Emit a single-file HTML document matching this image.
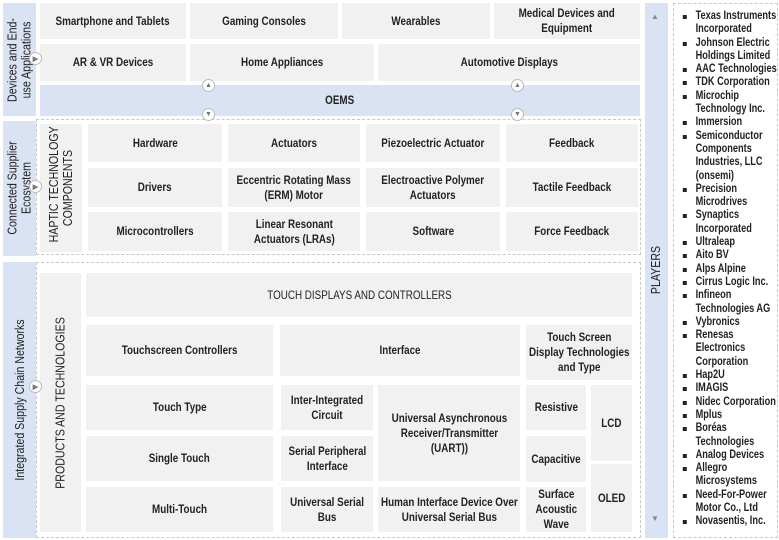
<!DOCTYPE html>
<html><head><meta charset="utf-8">
<style>
*{margin:0;padding:0;box-sizing:border-box}
body{width:779px;height:540px;background:#fff;position:relative;overflow:hidden;font-family:"Liberation Sans",sans-serif;color:#222;font-weight:bold}
.a{position:absolute}
.b{position:absolute;background:#f1f1f1;display:flex;align-items:center;justify-content:center;text-align:center;font-size:12px;line-height:15px}
.b span{display:inline-block;white-space:nowrap;transform:scaleX(.82)}
.lab{position:absolute;background:#dae3f3}
.v{position:absolute;transform:rotate(-90deg) scaleX(.85);transform-origin:center;white-space:nowrap;text-align:center;font-size:12.5px;line-height:14px;font-weight:normal;color:#222}
.dash{position:absolute;border:1.5px dashed #c8c8c8}
.c{position:absolute;width:13px;height:13px;border-radius:50%;background:#fff;border:1px solid #bbb;font-size:7px;color:#777;display:flex;align-items:center;justify-content:center}
ul{list-style:none}
li{position:relative;padding-left:22px;font-size:11.5px;line-height:13.3px;white-space:nowrap}
li:before{content:"";position:absolute;left:6px;top:5px;width:5px;height:4px;background:#222}
</style></head><body>
<div class="lab" style="left:3px;top:3px;width:33px;height:113px"></div>
<div class="lab" style="left:3px;top:121px;width:33px;height:135px"></div>
<div class="lab" style="left:3px;top:262px;width:33px;height:276px"></div>
<div class="v" style="left:-37px;top:46px;width:113px;height:28px">Devices and End-<br>use Applications</div>
<div class="v" style="left:-48px;top:174px;width:135px;height:28px">Connected Supplier<br>Ecosystem</div>
<div class="v" style="left:-118px;top:393px;width:276px;height:14px">Integrated Supply Chain Networks</div>

<div class="b" style="left:40px;top:3px;width:146px;height:36px"><span>Smartphone and Tablets</span></div>
<div class="b" style="left:190px;top:3px;width:148px;height:36px"><span>Gaming Consoles</span></div>
<div class="b" style="left:342px;top:3px;width:148px;height:36px"><span>Wearables</span></div>
<div class="b" style="left:494px;top:3px;width:146px;height:36px"><span>Medical Devices and<br>Equipment</span></div>
<div class="b" style="left:40px;top:44px;width:146px;height:37px"><span>AR &amp; VR Devices</span></div>
<div class="b" style="left:190px;top:44px;width:184px;height:37px"><span>Home Appliances</span></div>
<div class="b" style="left:378px;top:44px;width:262px;height:37px"><span>Automotive Displays</span></div>
<div class="b" style="left:40px;top:85px;width:600px;height:31px;background:#dae3f3"><span>OEMS</span></div>

<div class="dash" style="left:36px;top:119px;width:605px;height:136px"></div>
<div class="b" style="left:40px;top:124px;width:42px;height:128px"></div>
<div class="v" style="left:-3px;top:174px;width:128px;height:28px">HAPTIC TECHNOLOGY<br>COMPONENTS</div>
<div class="b" style="left:88px;top:124px;width:134px;height:38px"><span>Hardware</span></div>
<div class="b" style="left:228px;top:124px;width:132px;height:38px"><span>Actuators</span></div>
<div class="b" style="left:366px;top:124px;width:134px;height:38px"><span>Piezoelectric Actuator</span></div>
<div class="b" style="left:506px;top:124px;width:132px;height:38px"><span>Feedback</span></div>
<div class="b" style="left:88px;top:168px;width:134px;height:39px"><span>Drivers</span></div>
<div class="b" style="left:228px;top:168px;width:132px;height:39px"><span>Eccentric Rotating Mass<br>(ERM) Motor</span></div>
<div class="b" style="left:366px;top:168px;width:134px;height:39px"><span>Electroactive Polymer<br>Actuators</span></div>
<div class="b" style="left:506px;top:168px;width:132px;height:39px"><span>Tactile Feedback</span></div>
<div class="b" style="left:88px;top:212px;width:134px;height:39px"><span>Microcontrollers</span></div>
<div class="b" style="left:228px;top:212px;width:132px;height:39px"><span>Linear Resonant<br>Actuators (LRAs)</span></div>
<div class="b" style="left:366px;top:212px;width:134px;height:39px"><span>Software</span></div>
<div class="b" style="left:506px;top:212px;width:132px;height:39px"><span>Force Feedback</span></div>

<div class="dash" style="left:36px;top:262px;width:605px;height:276px"></div>
<div class="b" style="left:40px;top:273px;width:41px;height:259px"></div>
<div class="v" style="left:-69px;top:396px;width:259px;height:14px">PRODUCTS AND TECHNOLOGIES</div>
<div class="b" style="left:86px;top:273px;width:546px;height:44px;font-weight:normal"><span>TOUCH DISPLAYS AND CONTROLLERS</span></div>
<div class="b" style="left:86px;top:325px;width:187px;height:51px"><span>Touchscreen Controllers</span></div>
<div class="b" style="left:280px;top:325px;width:240px;height:51px"><span>Interface</span></div>
<div class="b" style="left:526px;top:325px;width:106px;height:55px"><span>Touch Screen<br>Display Technologies<br>and Type</span></div>
<div class="b" style="left:86px;top:385px;width:187px;height:45px"><span>Touch Type</span></div>
<div class="b" style="left:86px;top:436px;width:187px;height:45px"><span>Single Touch</span></div>
<div class="b" style="left:86px;top:487px;width:187px;height:45px"><span>Multi-Touch</span></div>
<div class="b" style="left:281px;top:385px;width:92px;height:45px"><span>Inter-Integrated<br>Circuit</span></div>
<div class="b" style="left:281px;top:436px;width:92px;height:45px"><span>Serial Peripheral<br>Interface</span></div>
<div class="b" style="left:281px;top:487px;width:92px;height:45px"><span>Universal Serial<br>Bus</span></div>
<div class="b" style="left:378px;top:385px;width:142px;height:96px"><span>Universal Asynchronous<br>Receiver/Transmitter<br>(UART))</span></div>
<div class="b" style="left:378px;top:487px;width:142px;height:45px"><span>Human Interface Device Over<br>Universal Serial Bus</span></div>
<div class="b" style="left:526px;top:385px;width:60px;height:45px"><span>Resistive</span></div>
<div class="b" style="left:526px;top:436px;width:60px;height:46px"><span>Capacitive</span></div>
<div class="b" style="left:526px;top:487px;width:60px;height:45px"><span>Surface<br>Acoustic<br>Wave</span></div>
<div class="b" style="left:591px;top:385px;width:41px;height:76px"><span>LCD</span></div>
<div class="b" style="left:591px;top:464px;width:41px;height:68px"><span>OLED</span></div>

<div class="c" style="left:29px;top:52px">▶</div>
<div class="c" style="left:29px;top:180px">▶</div>
<div class="c" style="left:29px;top:380px">▶</div>
<div class="c" style="left:202px;top:79px">▲</div>
<div class="c" style="left:202px;top:108px">▼</div>
<div class="c" style="left:511px;top:79px">▲</div>
<div class="c" style="left:511px;top:108px">▼</div>

<div class="lab" style="left:645px;top:3px;width:23px;height:535px"></div>
<div class="a" style="left:651px;top:12px;font-size:8px;color:#888">▲</div>
<div class="a" style="left:651px;top:514px;font-size:8px;color:#888">▼</div>
<div class="v" style="left:626px;top:263px;width:60px;height:14px">PLAYERS</div>
<div class="dash" style="left:673px;top:3px;width:105px;height:535px"></div>
<ul class="a" style="left:678px;top:10px;transform:scaleX(.8);transform-origin:left top">
<li>Texas Instruments<br>Incorporated</li>
<li>Johnson Electric<br>Holdings Limited</li>
<li>AAC Technologies</li>
<li>TDK Corporation</li>
<li>Microchip<br>Technology Inc.</li>
<li>Immersion</li>
<li>Semiconductor<br>Components<br>Industries, LLC<br>(onsemi)</li>
<li>Precision<br>Microdrives</li>
<li>Synaptics<br>Incorporated</li>
<li>Ultraleap</li>
<li>Aito BV</li>
<li>Alps Alpine</li>
<li>Cirrus Logic Inc.</li>
<li>Infineon<br>Technologies AG</li>
<li>Vybronics</li>
<li>Renesas<br>Electronics<br>Corporation</li>
<li>Hap2U</li>
<li>IMAGIS</li>
<li>Nidec Corporation</li>
<li>Mplus</li>
<li>Boréas<br>Technologies</li>
<li>Analog Devices</li>
<li>Allegro<br>Microsystems</li>
<li>Need-For-Power<br>Motor Co., Ltd</li>
<li>Novasentis, Inc.</li>
</ul>
</body></html>
